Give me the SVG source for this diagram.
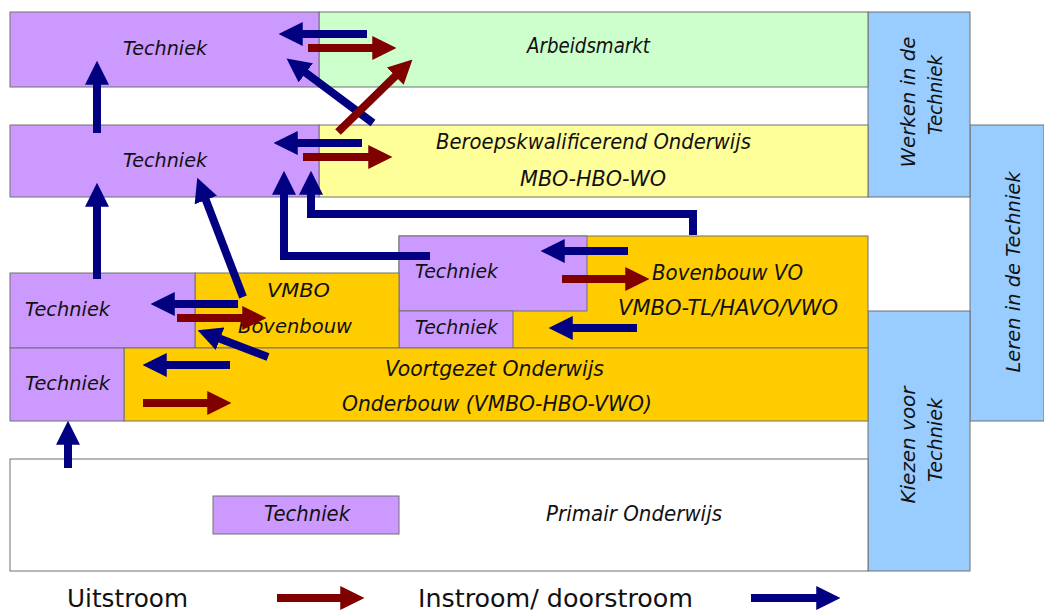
<svg xmlns="http://www.w3.org/2000/svg" width="1044" height="611" viewBox="0 0 1044 611">
<style>
.box{stroke:#707070;stroke-width:1}
.p{fill:#cc99ff}.g{fill:#ccffcc}.y{fill:#ffff99}.o{fill:#ffcc00}.b{fill:#99ccff}.w{fill:#ffffff}
.t{font-family:"DejaVu Sans","Liberation Sans",sans-serif;font-style:italic;font-size:19px;fill:#111111;text-anchor:middle}
.c{font-size:21px}
.lg{font-family:"DejaVu Sans","Liberation Sans",sans-serif;font-size:24px;fill:#111111}
.ab{stroke:#000080;stroke-width:8;fill:none;marker-end:url(#hb)}
.ar{stroke:#800000;stroke-width:8;fill:none;marker-end:url(#hr)}
</style>
<defs>
<marker id="hb" viewBox="0 0 10 10" refX="0.3" refY="5" markerWidth="3" markerHeight="3" orient="auto" markerUnits="strokeWidth"><path d="M0,0 L10,5 L0,10 z" fill="#000080"/></marker>
<marker id="hr" viewBox="0 0 10 10" refX="0.3" refY="5" markerWidth="3" markerHeight="3" orient="auto" markerUnits="strokeWidth"><path d="M0,0 L10,5 L0,10 z" fill="#800000"/></marker>
</defs>
<rect width="1044" height="611" fill="#ffffff"/>

<g id="leren">
<rect class="box b" x="970" y="125" width="74" height="296"/>
<text class="t" transform="translate(1020,272) rotate(-90)" textLength="201" lengthAdjust="spacingAndGlyphs">Leren in de Techniek</text>
</g>
<g id="werken">
<rect class="box b" x="868" y="12" width="102" height="185"/>
<text class="t" transform="translate(915,102) rotate(-90)" textLength="131" lengthAdjust="spacingAndGlyphs">Werken in de</text>
<text class="t" transform="translate(942,95) rotate(-90)" textLength="80" lengthAdjust="spacingAndGlyphs">Techniek</text>
</g>
<g id="kiezen">
<rect class="box b" x="868" y="311" width="102" height="260"/>
<text class="t" transform="translate(915,445) rotate(-90)" textLength="117" lengthAdjust="spacingAndGlyphs">Kiezen voor</text>
<text class="t" transform="translate(942,440) rotate(-90)" textLength="84" lengthAdjust="spacingAndGlyphs">Techniek</text>
</g>

<g id="arbeidsmarkt">
<rect class="box g" x="319" y="12" width="549" height="75"/>
<text class="t c" x="588.5" y="53" textLength="123" lengthAdjust="spacingAndGlyphs">Arbeidsmarkt</text>
</g>
<g id="techniek-arbeid">
<rect class="box p" x="10" y="12" width="309" height="75"/>
<text class="t" x="165" y="55" textLength="84" lengthAdjust="spacingAndGlyphs">Techniek</text>
</g>

<g id="beroeps">
<rect class="box y" x="319" y="125" width="549" height="72"/>
<text class="t c" x="593.5" y="149" textLength="315" lengthAdjust="spacingAndGlyphs">Beroepskwalificerend Onderwijs</text>
<text class="t c" x="593" y="186" textLength="146" lengthAdjust="spacingAndGlyphs">MBO-HBO-WO</text>
</g>
<g id="techniek-beroeps">
<rect class="box p" x="10" y="125" width="309" height="72"/>
<text class="t" x="165" y="167" textLength="84" lengthAdjust="spacingAndGlyphs">Techniek</text>
</g>

<g id="bovenbouw-vo">
<rect class="box o" x="399" y="236" width="469" height="112"/>
<text class="t c" x="727.5" y="280" textLength="151" lengthAdjust="spacingAndGlyphs">Bovenbouw VO</text>
<text class="t c" x="728" y="315" textLength="220" lengthAdjust="spacingAndGlyphs">VMBO-TL/HAVO/VWO</text>
</g>
<g id="techniek-vo">
<rect class="box p" x="399" y="236" width="188" height="75"/>
<text class="t" x="456.5" y="278" textLength="83" lengthAdjust="spacingAndGlyphs">Techniek</text>
</g>
<g id="techniek-vo-klein">
<rect class="box p" x="399" y="311" width="114" height="37"/>
<text class="t" x="456.5" y="334" textLength="83" lengthAdjust="spacingAndGlyphs">Techniek</text>
</g>

<g id="vmbo">
<rect class="box o" x="195" y="273" width="204" height="75"/>
<text class="t" x="298.5" y="297" textLength="63" lengthAdjust="spacingAndGlyphs">VMBO</text>
<text class="t" x="295" y="333" textLength="114" lengthAdjust="spacingAndGlyphs">Bovenbouw</text>
</g>
<g id="techniek-vmbo">
<rect class="box p" x="10" y="273" width="185" height="75"/>
<text class="t" x="67.5" y="316" textLength="85" lengthAdjust="spacingAndGlyphs">Techniek</text>
</g>

<g id="onderbouw">
<rect class="box o" x="124" y="348" width="744" height="73"/>
<text class="t c" x="494.5" y="376" textLength="219" lengthAdjust="spacingAndGlyphs">Voortgezet Onderwijs</text>
<text class="t c" x="497" y="411" textLength="310" lengthAdjust="spacingAndGlyphs">Onderbouw (VMBO-HBO-VWO)</text>
</g>
<g id="techniek-onderbouw">
<rect class="box p" x="10" y="348" width="114" height="73"/>
<text class="t" x="67.5" y="390" textLength="85" lengthAdjust="spacingAndGlyphs">Techniek</text>
</g>

<g id="primair">
<rect class="box w" x="10" y="459" width="858" height="112"/>
<text class="t c" x="634" y="521" textLength="176" lengthAdjust="spacingAndGlyphs">Primair Onderwijs</text>
</g>
<g id="techniek-primair">
<rect class="box p" x="213" y="496" width="186" height="38"/>
<text class="t c" x="307" y="521" textLength="86" lengthAdjust="spacingAndGlyphs">Techniek</text>
</g>

<g id="connectors">
<line class="ab" x1="367" y1="34" x2="302" y2="34"/>
<line class="ar" x1="308" y1="48" x2="373" y2="48"/>
<line class="ab" x1="373" y1="123" x2="305.2" y2="72.4"/>
<line class="ar" x1="338" y1="132" x2="395.8" y2="75.7"/>
<line class="ab" x1="362" y1="143" x2="297" y2="143"/>
<line class="ar" x1="303" y1="157" x2="369" y2="157"/>
<line class="ab" x1="97" y1="133" x2="97" y2="84"/>
<line class="ab" x1="97" y1="279" x2="97" y2="206"/>
<line class="ab" x1="243" y1="297" x2="205.6" y2="199.4"/>
<path class="ab" d="M430,256 H284 V194"/>
<path class="ab" d="M693,235 V214 H311 V194"/>
<line class="ab" x1="238" y1="304" x2="174" y2="304"/>
<line class="ar" x1="177" y1="318" x2="243" y2="318"/>
<line class="ab" x1="268" y1="357" x2="219.4" y2="338.5"/>
<line class="ab" x1="230" y1="365" x2="166" y2="365"/>
<line class="ar" x1="143" y1="403" x2="208" y2="403"/>
<line class="ab" x1="68" y1="468" x2="68" y2="444"/>
<line class="ab" x1="628" y1="251" x2="564" y2="251"/>
<line class="ar" x1="562" y1="279" x2="626" y2="279"/>
<line class="ab" x1="637" y1="328" x2="572" y2="328"/>
</g>

<g id="legend">
<text class="lg" x="67" y="607" textLength="121" lengthAdjust="spacingAndGlyphs">Uitstroom</text>
<line class="ar" x1="277" y1="598" x2="341" y2="598"/>
<text class="lg" x="418" y="607" textLength="275" lengthAdjust="spacingAndGlyphs">Instroom/ doorstroom</text>
<line class="ab" x1="751" y1="598" x2="817" y2="598"/>
</g>
</svg>
